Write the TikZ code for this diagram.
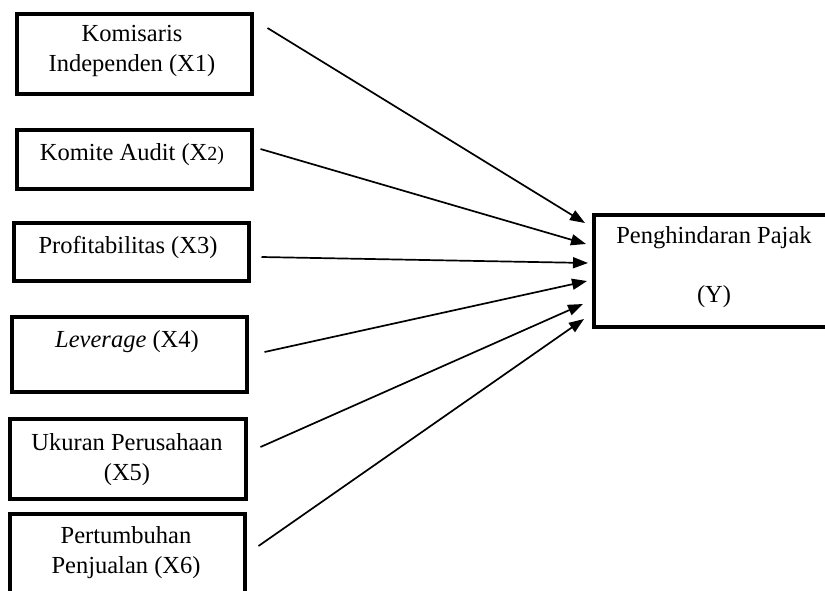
\documentclass[tikz,border=0pt]{standalone}
\usepackage{fontspec}
\setmainfont{Liberation Serif}
\usetikzlibrary{arrows.meta,calc}
\begin{document}
\begin{tikzpicture}[x=1pt,y=-1pt,
  box/.style={draw=black,line width=3.5pt,inner sep=0pt,anchor=north west},
  txt/.style={font=\fontsize{24.5}{29.5}\selectfont,align=center,inner sep=0pt,anchor=base},
  arr/.style={line width=1.7pt,-{Triangle[length=15pt,width=11pt]}}]
\useasboundingbox (0,0) rectangle (825,590);
\clip (0,0) rectangle (825,590);
% boxes
\node[box,minimum width=235pt,minimum height=80pt] (b1) at (15,12) {};
\node[box,minimum width=235pt,minimum height=59pt] (b2) at (15,128) {};
\node[box,minimum width=235pt,minimum height=58pt] (b3) at (12,221) {};
\node[box,minimum width=235pt,minimum height=75pt] (b4) at (10,315) {};
\node[box,minimum width=236pt,minimum height=80pt] (b5) at (8,417) {};
\node[box,minimum width=235pt,minimum height=100pt] (b6) at (8,512) {};
\node[box,minimum width=250pt,minimum height=112pt] (by) at (592,213) {};
% texts (base = last line baseline)
\node[txt] (t1) at (132,71) {Komisaris\\Independen (X1)};
\node[txt] (t2) at (132,160) {Komite Audit (X{\fontsize{20}{24}\selectfont 2)}};
\node[txt] (t3) at (128,253) {Profitabilitas (X3)};
\node[txt] (t4) at (127,347) {\textit{Leverage} (X4)};
\node[txt] (t5) at (127,480) {Ukuran Perusahaan\\(X5)};
\node[txt] (t6) at (126,573) {Pertumbuhan\\Penjualan (X6)};
\node[txt] (ty) at (714,302) {Penghindaran Pajak\\[29pt](Y)};
% arrows
\draw[arr] ($(b1.north east)+(14,16)$) -- ($(by.north west)+(-7,10)$);
\draw[arr] ($(b2.north east)+(7,21)$) -- ($(by.north west)+(-6,31)$);
\draw[arr] ($(b3.north east)+(11,36)$) -- ($(by.north west)+(-4,50)$);
\draw[arr] ($(b4.north east)+(16,37)$) -- ($(by.north west)+(-5,68)$);
\draw[arr] ($(b5.north east)+(13,30)$) -- ($(by.north west)+(-9,91)$);
\draw[arr] ($(b6.north east)+(12,34)$) -- ($(by.north west)+(-8,106)$);
\end{tikzpicture}
\end{document}
